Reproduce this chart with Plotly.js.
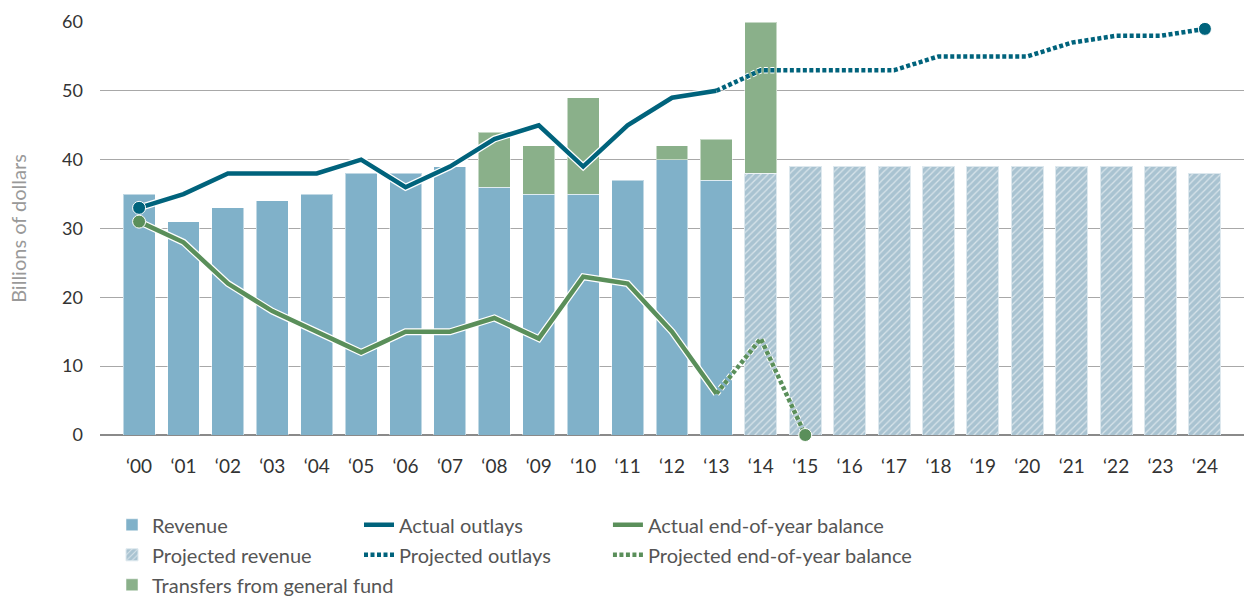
<!DOCTYPE html>
<html>
<head>
<meta charset="utf-8">
<script src="https://cdn.plot.ly/plotly-3.0.1.min.js"></script>
<style>html,body{margin:0;padding:0;background:#fff;}#chart{width:1244px;height:598px;}</style>
</head>
<body>
<div id="chart"></div>
<script>
// ---- data ----
const years = ['‘00','‘01','‘02','‘03','‘04','‘05','‘06','‘07','‘08','‘09','‘10','‘11','‘12','‘13','‘14','‘15','‘16','‘17','‘18','‘19','‘20','‘21','‘22','‘23','‘24'];
const revenueYears = years.slice(0, 14);
const revenue = [35, 31, 33, 34, 35, 38, 38, 39, 36, 35, 35, 37, 40, 37];
const projRevenueYears = years.slice(14);
const projRevenue = [38, 39, 39, 39, 39, 39, 39, 39, 39, 39, 38];
const transferYears = ['‘08','‘09','‘10','‘12','‘13','‘14'];
const transfers = [8, 7, 14, 2, 6, 22];
const outlaysYears = years.slice(0, 14);
const outlays = [33, 35, 38, 38, 38, 40, 36, 39, 43, 45, 39, 45, 49, 50];
const projOutlaysYears = years.slice(13);
const projOutlays = [50, 53, 53, 53, 53, 55, 55, 55, 57, 58, 58, 59];
const balanceYears = years.slice(0, 14);
const balance = [31, 28, 22, 18, 15, 12, 15, 15, 17, 14, 23, 22, 15, 6];
const projBalanceYears = years.slice(13, 16);
const projBalance = [6, 14, 0];

// ---- styles ----
const C_REV = '#80b1c9', C_PROJ = '#a9c3d1', C_TRANS = '#8ab08a';
const C_OUT = '#00637c', C_BAL = '#5a8f5a';
const DOT = '4px,2.5px';
const FONT = 'Lato, "Open Sans", sans-serif';

const traces = [
  {type:'bar', name:'Revenue', x:revenueYears, y:revenue, marker:{color:C_REV, line:{color:'rgba(255,255,255,0.5)', width:1}}, legend:'legend', legendgroup:'a', hoverinfo:'skip'},
  {type:'bar', name:'Projected revenue', x:projRevenueYears, y:projRevenue,
    marker:{color:C_PROJ, line:{color:'#dde8ee', width:1},
      pattern:{shape:'/', fillmode:'replace', bgcolor:C_PROJ, fgcolor:'#ffffff', fgopacity:0.55, size:5, solidity:0.25}}, legend:'legend', legendgroup:'b', hoverinfo:'skip'},
  {type:'bar', name:'Transfers from general fund', x:transferYears, y:transfers, marker:{color:C_TRANS, line:{color:'rgba(255,255,255,0.5)', width:1}}, legend:'legend', legendgroup:'c', hoverinfo:'skip'},

  // white outlines
  {type:'scatter', mode:'lines', x:outlaysYears, y:outlays, line:{color:'#fff', width:7}, showlegend:false, hoverinfo:'skip'},
  {type:'scatter', mode:'lines', x:balanceYears, y:balance, line:{color:'#fff', width:7}, showlegend:false, hoverinfo:'skip'},
  {type:'scatter', mode:'lines', x:projOutlaysYears, y:projOutlays, line:{color:'#fff', width:6.5, dash:DOT}, showlegend:false, hoverinfo:'skip'},
  {type:'scatter', mode:'lines', x:projBalanceYears, y:projBalance, line:{color:'#fff', width:6.5, dash:DOT}, showlegend:false, hoverinfo:'skip'},

  {type:'scatter', mode:'lines', name:'Actual outlays', x:outlaysYears, y:outlays, line:{color:C_OUT, width:4.5}, legend:'legend2', legendgroup:'d', hoverinfo:'skip'},
  {type:'scatter', mode:'lines', name:'Projected outlays', x:projOutlaysYears, y:projOutlays, line:{color:C_OUT, width:4.5, dash:DOT}, legend:'legend2', legendgroup:'e', hoverinfo:'skip'},
  {type:'scatter', mode:'lines', name:'Actual end-of-year balance', x:balanceYears, y:balance, line:{color:C_BAL, width:4.5}, legend:'legend3', legendgroup:'f', hoverinfo:'skip'},
  {type:'scatter', mode:'lines', name:'Projected end-of-year balance', x:projBalanceYears, y:projBalance, line:{color:C_BAL, width:4.5, dash:DOT}, legend:'legend3', legendgroup:'g', hoverinfo:'skip'},

  // end markers
  {type:'scatter', mode:'markers', x:[outlaysYears[0]], y:[outlays[0]], marker:{color:C_OUT, size:13, line:{color:'#fff', width:1}}, showlegend:false, hoverinfo:'skip', cliponaxis:false},
  {type:'scatter', mode:'markers', x:[balanceYears[0]], y:[balance[0]], marker:{color:C_BAL, size:13, line:{color:'#fff', width:1}}, showlegend:false, hoverinfo:'skip', cliponaxis:false},
  {type:'scatter', mode:'markers', x:[projOutlaysYears[projOutlaysYears.length-1]], y:[projOutlays[projOutlays.length-1]], marker:{color:C_OUT, size:13, line:{color:'#fff', width:1}}, showlegend:false, hoverinfo:'skip', cliponaxis:false},
  {type:'scatter', mode:'markers', x:[projBalanceYears[projBalanceYears.length-1]], y:[projBalance[projBalance.length-1]], marker:{color:C_BAL, size:13, line:{color:'#fff', width:1}}, showlegend:false, hoverinfo:'skip', cliponaxis:false}
];

const legendBase = {orientation:'v', xanchor:'left', yanchor:'top', yref:'container', y:0.155,
  font:{family:FONT, size:20, color:'#555'}, tracegroupgap:1, bgcolor:'rgba(0,0,0,0)', borderwidth:0,
  itemclick:false, itemdoubleclick:false};

const layout = {
  width:1244, height:598,
  margin:{l:100, r:0, t:22, b:163},
  paper_bgcolor:'#fff', plot_bgcolor:'#fff',
  barmode:'stack', bargap:0.28,
  font:{family:FONT, color:'#333'},
  xaxis:{type:'category', categoryorder:'array', categoryarray:years, range:[-0.88, 24.88],
    showgrid:false, zeroline:false, showline:false, ticks:'', ticklabelstandoff:18,
    tickfont:{family:FONT, size:19, color:'#333'}},
  yaxis:{range:[0, 60], tickvals:[0,10,20,30,40,50,60], showgrid:true, gridcolor:'#a8a8a8', gridwidth:1,
    zeroline:true, zerolinecolor:'#8a8a8a', zerolinewidth:1.5, showline:false, ticks:'', ticklabelstandoff:16,
    tickfont:{family:FONT, size:18, color:'#333'},
    title:{text:'Billions of dollars', font:{family:FONT, size:20, color:'#999'}, standoff:30}},
  legend:Object.assign({}, legendBase, {x:0.0105}),
  legend2:Object.assign({}, legendBase, {x:0.2264}),
  legend3:Object.assign({}, legendBase, {x:0.444}),
  showlegend:true
};

Plotly.newPlot('chart', traces, layout, {displayModeBar:false, staticPlot:true});
</script>
</body>
</html>
